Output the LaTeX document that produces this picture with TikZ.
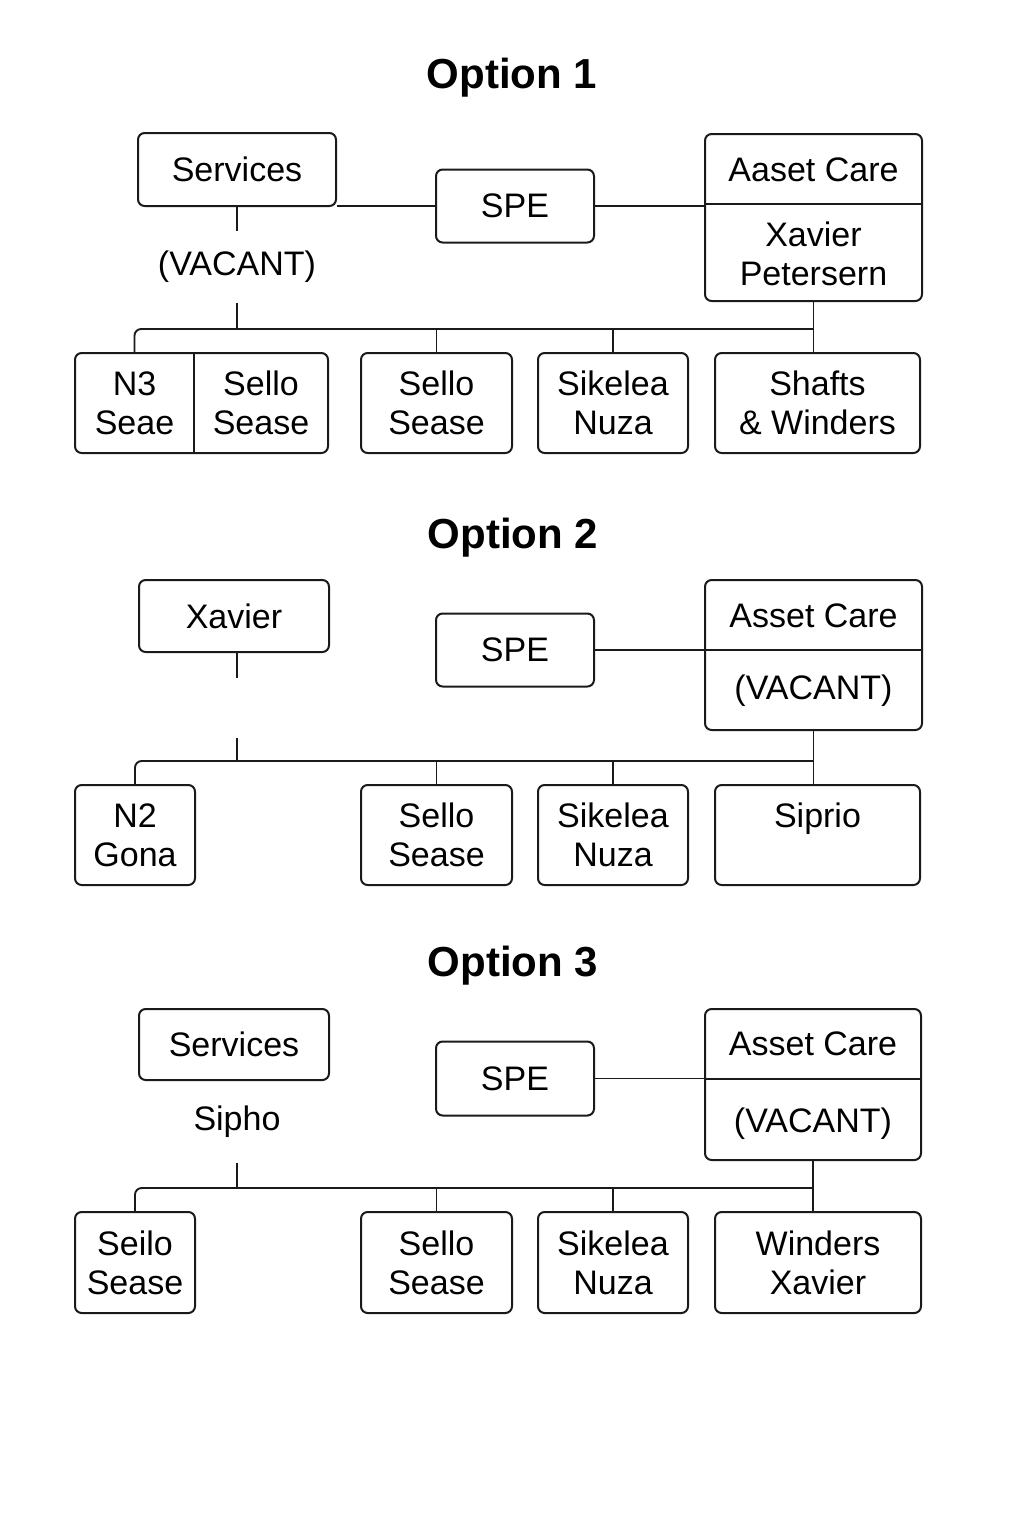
\documentclass[tikz,border=0pt]{standalone}
\usepackage{fontspec}
\setmainfont{Liberation Sans}
\definecolor{ln}{HTML}{1A1A1A}
\begin{document}
\begin{tikzpicture}[x=0.75pt,y=-0.75pt,
  box/.style={draw=ln, line width=1.5pt, rounded corners=5pt, inner sep=0pt, align=center,
    font=\fontsize{25.5}{29.25}\selectfont},
  sz/.style 2 args={minimum width=#1*0.75pt, minimum height=#2*0.75pt},
  lbl/.style={inner sep=0pt, align=center, font=\fontsize{25.5}{29.25}\selectfont},
  ttl/.style={inner sep=0pt, font=\fontsize{31.5}{36}\selectfont\bfseries},
  conn/.style={draw=ln, line width=1.4pt}]
\fill[white] (0,0) rectangle (1024,1536);
\useasboundingbox (0,0) rectangle (1024,1536);

% ================= Option 1 =================
\node[ttl] (t1) at (512,78) {Option 1};
\node[box, sz={198}{73}] (srv1) at (237,169.5) {Services};
\node[lbl, minimum height=72*0.75pt] (vac1) at (237,267) {(VACANT)};
\node[box, sz={158}{73}] (spe1) at (515,206) {SPE};
\node[box, sz={217}{167}] (ac1) at (813.5,217.5) {};
\node[lbl] (ac1t) at (813.5,170) {Aaset Care};
\node[lbl] (ac1b) at (813.5,254) {Xavier\\Petersern};
\draw[conn] ([yshift=-71*0.75pt]ac1.north west) -- ([yshift=-71*0.75pt]ac1.north east);

\node[box, sz={253}{100}] (n3) at (201.5,403) {};
\node[lbl, sz={119}{100}] (n3a) at (134.5,403) {N3\\Seae};
\node[lbl, sz={134}{100}] (n3b) at (261,403) {Sello\\Sease};
\draw[conn] (n3a.north east) -- (n3a.south east);
\node[box, sz={151}{100}] (ss1) at (436.5,403) {Sello\\Sease};
\node[box, sz={150}{100}] (sk1) at (613,403) {Sikelea\\Nuza};
\node[box, sz={205}{100}] (sw1) at (817.5,403) {Shafts\\\& Winders};

\coordinate (j1) at (237,329);
\draw[conn] (spe1.west) -- (spe1.west -| srv1.east);
\draw[conn] (spe1.east) -- (spe1.east -| ac1.west);
\draw[conn] (srv1.south) -- (vac1.north);
\draw[conn] (vac1.south) -- (vac1.south |- j1);
\draw[conn, rounded corners=5pt] (n3a.north) |- (ac1.south |- j1);
\draw[conn] (ss1.north) -- (ss1.north |- j1);
\draw[conn] (sk1.north) -- (sk1.north |- j1);
\draw[conn] (ac1.south) -- (ac1.south |- sw1.north);

% ================= Option 2 =================
\node[ttl] (t2) at (513,538) {Option 2};
\node[box, sz={190}{72}] (xav2) at (234,616) {Xavier};
\node[box, sz={158}{73}] (spe2) at (515,650) {SPE};
\node[box, sz={217}{150}] (ac2) at (813.5,655) {};
\node[lbl] (ac2t) at (813.5,615.5) {Asset Care};
\node[lbl] (ac2b) at (813.5,691) {(VACANT)};
\draw[conn] ([yshift=-71*0.75pt]ac2.north west) -- ([yshift=-71*0.75pt]ac2.north east);

\node[box, sz={120}{100}] (n2) at (135,835) {N2\\Gona};
\node[box, sz={151}{100}] (ss2) at (436.5,835) {Sello\\Sease};
\node[box, sz={150}{100}] (sk2) at (613,835) {Sikelea\\Nuza};
\node[box, sz={205}{100}] (sp2) at (817.5,835) {Siprio\\\mbox{}};

\coordinate (g2a) at (237,678);
\coordinate (g2b) at (237,738);
\coordinate (j2) at (237,761);
\draw[conn] (spe2.east) -- (spe2.east -| ac2.west);
\draw[conn] (g2a |- xav2.south) -- (g2a);
\draw[conn] (g2b) -- (j2);
\draw[conn, rounded corners=5pt] (n2.north) |- (ac2.south |- j2);
\draw[conn] (ss2.north) -- (ss2.north |- j2);
\draw[conn] (sk2.north) -- (sk2.north |- j2);
\draw[conn] (ac2.south) -- (ac2.south |- sp2.north);

% ================= Option 3 =================
\node[ttl] (t3) at (513,966) {Option 3};
\node[box, sz={190}{71}] (srv3) at (234,1044.5) {Services};
\node[lbl] (sip3) at (237,1122) {Sipho};
\node[box, sz={158}{74}] (spe3) at (515,1078.5) {SPE};
\node[box, sz={216}{151}] (ac3) at (813,1084.5) {};
\node[lbl] (ac3t) at (813,1044) {Asset Care};
\node[lbl] (ac3b) at (813,1124) {(VACANT)};
\draw[conn] ([yshift=-71*0.75pt]ac3.north west) -- ([yshift=-71*0.75pt]ac3.north east);

\node[box, sz={120}{101}] (se3) at (135,1262.5) {Seilo\\Sease};
\node[box, sz={151}{101}] (ss3) at (436.5,1262.5) {Sello\\Sease};
\node[box, sz={150}{101}] (sk3) at (613,1262.5) {Sikelea\\Nuza};
\node[box, sz={206}{101}] (wx3) at (818,1262.5) {Winders\\Xavier};

\coordinate (g3) at (237,1163);
\coordinate (j3) at (237,1188);
\draw[conn] (spe3.east) -- (spe3.east -| ac3.west);
\draw[conn] (g3) -- (j3);
\draw[conn, rounded corners=5pt] (se3.north) |- (ac3.south |- j3);
\draw[conn] (ss3.north) -- (ss3.north |- j3);
\draw[conn] (sk3.north) -- (sk3.north |- j3);
\draw[conn] (ac3.south) -- (ac3.south |- wx3.north);
\end{tikzpicture}
\end{document}
